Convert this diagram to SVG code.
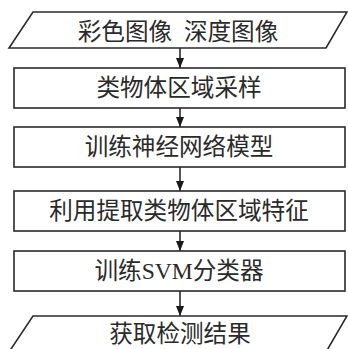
<svg xmlns="http://www.w3.org/2000/svg" width="348" height="349" viewBox="0 0 348 349">
<defs>
<style>
.shape{fill:#fff;stroke:#2a2a2a;stroke-width:1.6}
.lbl{font-family:"Noto Sans CJK SC","Liberation Sans",sans-serif;font-size:23.6px;fill:#2a2a2a;text-anchor:middle}
.lat{font-family:"Liberation Serif",serif}
.conn{stroke:#2a2a2a;stroke-width:1.6;fill:none;marker-end:url(#arr)}
</style>
<marker id="arr" viewBox="0 0 10 8" refX="10" refY="4" markerWidth="10" markerHeight="8" markerUnits="userSpaceOnUse" orient="auto">
<path d="M0,0 L10,4 L0,8 Z" fill="#1a1a1a"/>
</marker>
</defs>
<rect width="348" height="349" fill="#fff"/>
<g id="connectors">
<line class="conn" x1="180" y1="48" x2="180" y2="68"/>
<line class="conn" x1="180" y1="108" x2="180" y2="127"/>
<line class="conn" x1="180" y1="167" x2="180" y2="191"/>
<line class="conn" x1="180" y1="231" x2="180" y2="251"/>
<line class="conn" x1="180" y1="291" x2="180" y2="316"/>
</g>
<g id="input">
<polygon class="shape" points="33,12 347,12 326,48 9,48"/>
<text class="lbl" x="178" y="40">彩色图像&#8194;深度图像</text>
</g>
<g id="sample">
<rect class="shape" x="14" y="68" width="331" height="40"/>
<text class="lbl" x="179" y="96">类物体区域采样</text>
</g>
<g id="train-nn">
<rect class="shape" x="14" y="127" width="331" height="40"/>
<text class="lbl" x="179" y="155">训练神经网络模型</text>
</g>
<g id="extract">
<rect class="shape" x="14" y="191" width="331" height="40"/>
<text class="lbl" x="179" y="219">利用提取类物体区域特征</text>
</g>
<g id="train-svm">
<rect class="shape" x="14" y="251" width="331" height="40"/>
<text class="lbl" x="179" y="279">训练<tspan class="lat">SVM</tspan>分类器</text>
</g>
<g id="output">
<polygon class="shape" points="33,316 347,316 326,352 9,352"/>
<text class="lbl" x="180" y="342">获取检测结果</text>
</g>
</svg>
